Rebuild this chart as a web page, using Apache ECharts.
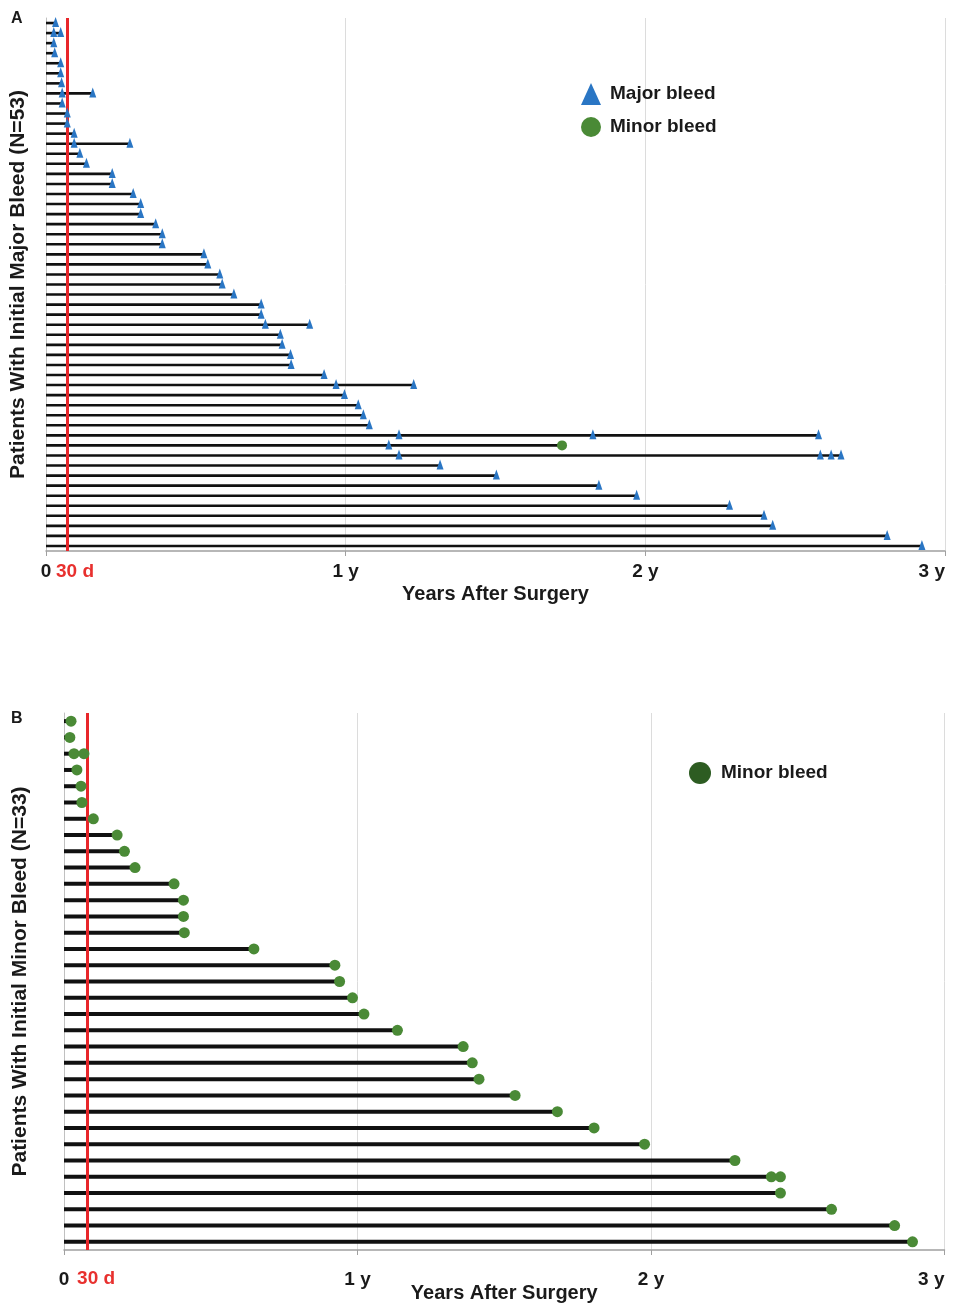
<!DOCTYPE html>
<html>
<head>
<meta charset="utf-8">
<script src="https://cdn.jsdelivr.net/npm/echarts@6/dist/echarts.min.js"></script>
<style>
  html, body { margin: 0; padding: 0; background: #fff; }
  #main { width: 957px; height: 1308px; }
</style>
</head>
<body>
<div id="main"></div>
<script>
// 数据：每位患者的出血时间（年）
// A: 初始大出血患者 (N=53)，每行为该患者的大出血时间
const majorA = [
  [0.032], [0.026, 0.049], [0.026], [0.029], [0.049], [0.049], [0.052], [0.054, 0.156], [0.054], [0.071],
  [0.071], [0.094], [0.094, 0.28], [0.113], [0.135], [0.221], [0.221], [0.291], [0.316], [0.316],
  [0.366], [0.388], [0.388], [0.527], [0.54], [0.58], [0.588], [0.627], [0.718], [0.718],
  [0.732, 0.88], [0.782], [0.788], [0.816], [0.818], [0.928], [0.968, 1.227], [0.996], [1.042], [1.059],
  [1.079], [1.178, 1.825, 2.578], [1.144], [1.178, 2.584, 2.62, 2.653], [1.315], [1.503], [1.845], [1.971], [2.281], [2.396],
  [2.425], [2.807], [2.923]
]
// A 中的小出血 [行号, 时间]
const minorA = [[42, 1.722]]
// B: 初始小出血患者 (N=33)
const minorB = [
  [0.024], [0.020], [0.034, 0.068], [0.044], [0.058], [0.061], [0.10], [0.181], [0.206], [0.242],
  [0.375], [0.407], [0.407], [0.41], [0.647], [0.923], [0.939], [0.983], [1.022], [1.136],
  [1.36], [1.391], [1.414], [1.537], [1.681], [1.806], [1.978], [2.286], [2.41, 2.441], [2.441],
  [2.615], [2.83], [2.891]
]
// 30 天标记线位置（年）
const redA = 0.07
const redB = 30 / 365
const xTicks = [0, 1, 2, 3]

const patientsA = majorA.map((_, i) => 'A' + (i + 1))
const patientsB = minorB.map((_, i) => 'B' + (i + 1))

// 横线终点 = 该行最后一次出血
const endA = majorA.map((r, i) => {
  const extra = minorA.filter(m => m[0] === i).map(m => m[1])
  return Math.max(...r, ...extra)
})
const endB = minorB.map(r => Math.max(...r))

const majorPtsA = []
majorA.forEach((r, i) => r.forEach(t => majorPtsA.push([t, i])))
const minorPtsA = minorA.map(m => [m[1], m[0]])
const minorPtsB = []
minorB.forEach((r, i) => r.forEach(t => minorPtsB.push([t, i])))

const FONT = '"Liberation Sans", Arial, sans-serif'
const BLUE = '#2a76c4'
const GREEN = '#4a8a36'
const DARK_GREEN = '#2d5c22'

function xAxisOpt (grid, margin, gap) {
  return {
    gridIndex: grid,
    type: 'value',
    min: 0,
    max: xTicks[xTicks.length - 1],
    interval: 1,
    axisLine: { show: true, lineStyle: { color: '#a0a0a0', width: 1.5 } },
    axisTick: { show: true, length: 5, lineStyle: { color: '#a0a0a0' } },
    axisLabel: {
      margin: margin,
      fontFamily: FONT,
      fontWeight: 'bold',
      fontSize: 19,
      color: '#1a1a1a',
      alignMaxLabel: 'right',
      formatter: v => v === 0 ? '0' : v + ' y'
    },
    splitLine: { show: true, lineStyle: { color: '#dcdcdc', width: 1 } },
    name: 'Years After Surgery',
    nameLocation: 'middle',
    nameGap: gap,
    nameMoveOverlap: false,
    nameTextStyle: { fontFamily: FONT, fontWeight: 'bold', fontSize: 20, color: '#1a1a1a' }
  }
}

function yAxisOpt (grid, cats, title, gap) {
  return {
    gridIndex: grid,
    type: 'category',
    data: cats,
    inverse: true,
    axisLine: { show: true, lineStyle: { color: '#c0c0c0', width: 1 } },
    axisTick: { show: false },
    axisLabel: { show: false },
    splitLine: { show: false },
    name: title,
    nameLocation: 'middle',
    nameRotate: 90,
    nameGap: gap,
    nameTextStyle: { fontFamily: FONT, fontWeight: 'bold', fontSize: 21, color: '#1a1a1a' }
  }
}

const chart = echarts.init(document.getElementById('main'), null, { renderer: 'canvas' })

const option = {
  animation: false,
  backgroundColor: '#fff',
  grid: [
    { left: 45, top: 18, width: 900, height: 533 },
    { left: 64, top: 713, width: 880.5, height: 537 }
  ],
  xAxis: [xAxisOpt(0, 11, 33), xAxisOpt(1, 20, 33)],
  yAxis: [
    yAxisOpt(0, patientsA, 'Patients With Initial Major Bleed (N=53)', 17),
    yAxisOpt(1, patientsB, 'Patients With Initial Minor Bleed (N=33)', 33)
  ],
  legend: [
    {
      orient: 'vertical',
      left: 576,
      top: 78,
      itemWidth: 20,
      itemHeight: 22,
      itemGap: 12,
      selectedMode: false,
      textStyle: { fontFamily: FONT, fontWeight: 'bold', fontSize: 19, color: '#1a1a1a', padding: [0, 0, 0, 4] },
      data: [
        { name: 'Major bleed', icon: 'triangle' },
        { name: 'Minor bleed', icon: 'circle' }
      ]
    },
    {
      orient: 'vertical',
      left: 684,
      top: 757,
      itemWidth: 22,
      itemHeight: 22,
      selectedMode: false,
      textStyle: { fontFamily: FONT, fontWeight: 'bold', fontSize: 19, color: '#1a1a1a', padding: [0, 0, 0, 5] },
      data: [
        { name: 'Minor bleed', icon: 'circle', itemStyle: { color: DARK_GREEN, opacity: 1 } }
      ]
    }
  ],
  series: [
    {
      name: 'followA',
      type: 'bar',
      xAxisIndex: 0,
      yAxisIndex: 0,
      data: endA,
      barWidth: 2.6,
      itemStyle: { color: '#111' },
      silent: true,
      z: 2,
      markLine: {
        silent: true,
        symbol: ['none', 'none'],
        label: { show: false },
        lineStyle: { color: '#e8262a', width: 3, type: 'solid', opacity: 1 },
        data: [{ xAxis: redA }]
      }
    },
    {
      name: 'Major bleed',
      type: 'scatter',
      xAxisIndex: 0,
      yAxisIndex: 0,
      data: majorPtsA,
      symbol: 'triangle',
      symbolSize: [7, 10],
      symbolOffset: [0, -1],
      itemStyle: { color: BLUE, opacity: 1 },
      z: 10
    },
    {
      name: 'Minor bleed',
      type: 'scatter',
      xAxisIndex: 0,
      yAxisIndex: 0,
      data: minorPtsA,
      symbol: 'circle',
      symbolSize: 10,
      itemStyle: { color: GREEN, opacity: 1 },
      z: 10
    },
    {
      name: 'followB',
      type: 'bar',
      xAxisIndex: 1,
      yAxisIndex: 1,
      data: endB,
      barWidth: 4,
      itemStyle: { color: '#111' },
      silent: true,
      z: 2,
      markLine: {
        silent: true,
        symbol: ['none', 'none'],
        label: { show: false },
        lineStyle: { color: '#e8262a', width: 3, type: 'solid', opacity: 1 },
        data: [{ xAxis: redB }]
      }
    },
    {
      name: 'Minor bleed',
      type: 'scatter',
      xAxisIndex: 1,
      yAxisIndex: 1,
      data: minorPtsB,
      symbol: 'circle',
      symbolSize: 11,
      itemStyle: { color: GREEN, opacity: 1 },
      z: 10
    }
  ]
}

chart.setOption(option)

// "30 d" 标签和 A/B 面板字母
const pxA = chart.convertToPixel({ xAxisIndex: 0 }, redA)
const pxB = chart.convertToPixel({ xAxisIndex: 1 }, redB)
const redLabel = { fontFamily: FONT, fontWeight: 'bold', fontSize: 19, fill: '#e8302e' }
chart.setOption({
  graphic: [
    { type: 'text', left: pxA - 11, top: 562, style: Object.assign({ text: '30 d' }, redLabel) },
    { type: 'text', left: pxB - 11, top: 1269, style: Object.assign({ text: '30 d' }, redLabel) },
    { type: 'text', left: 11, top: 11, style: { text: 'A', fontFamily: FONT, fontWeight: 'bold', fontSize: 16, fill: '#1a1a1a' } },
    { type: 'text', left: 11, top: 711, style: { text: 'B', fontFamily: FONT, fontWeight: 'bold', fontSize: 16, fill: '#1a1a1a' } }
  ]
})
</script>
</body>
</html>
